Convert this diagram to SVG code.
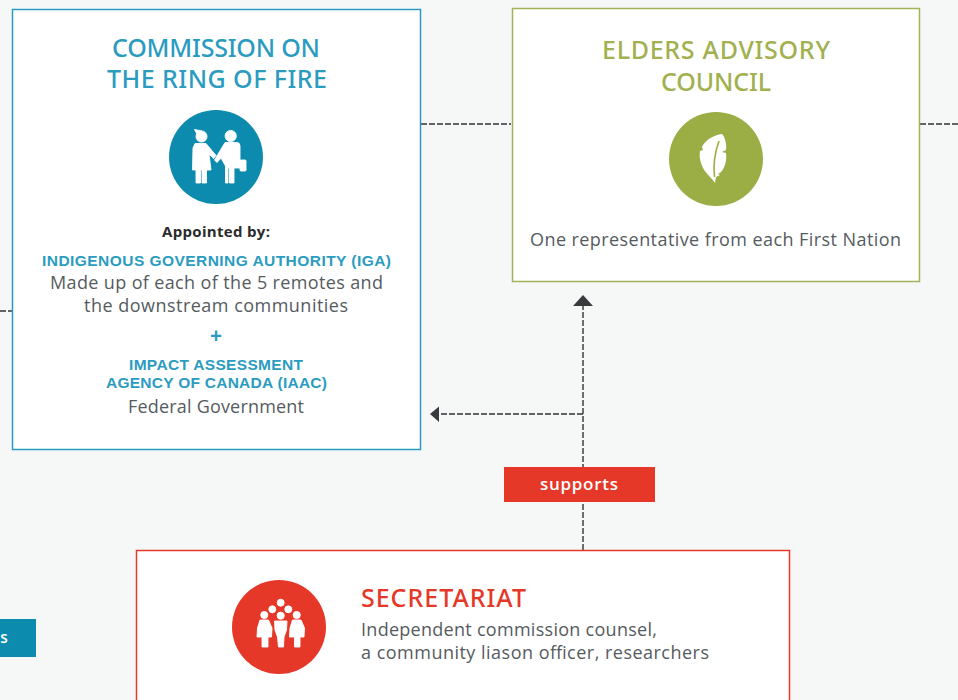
<svg xmlns="http://www.w3.org/2000/svg" width="958" height="700" viewBox="0 0 958 700">
<style>
text{font-family:"Open Sans","Noto Sans","Liberation Sans",sans-serif;text-anchor:middle}
.t{font-size:25px;font-family:"Noto Sans","Liberation Sans",sans-serif;font-weight:500}
.b{font-size:18px;fill:#555b60}
.h{font-size:15.500px;font-family:"Liberation Sans",sans-serif;font-weight:700;fill:#2b9cc0}
.c{fill:none;stroke:#333335;stroke-width:1.4;stroke-dasharray:6 2}
.w{fill:#fff}
.s{stroke:#fff;stroke-width:.9;stroke-linejoin:round}
</style>
<rect width="958" height="700" fill="#f6f8f8"/>
<g id="connectors">
<path class="c" d="M0 311H12"/>
<path class="c" d="M421 124H511"/>
<path class="c" d="M920 124H958"/>
<path class="c" d="M583 550V305"/>
<path class="c" d="M583 414H439"/>
<path d="M573 306L583 295L593 306Z" fill="#3a3a3c"/>
<path d="M430 414L439 406.500V422Z" fill="#3a3a3c"/>
</g>
<g id="commission">
<rect x="12.500" y="9.500" width="408" height="440" fill="#fff" stroke="#2a9cc0" stroke-width="1.5"/>
<text class="t" x="216" y="57" fill="#2b9cc0" textLength="208" lengthAdjust="spacing">COMMISSION ON</text>
<text class="t" x="217" y="88" fill="#2b9cc0" textLength="220" lengthAdjust="spacing">THE RING OF FIRE</text>
<circle cx="216" cy="157" r="47" fill="#0d8bae"/>
<g class="w s">
<circle cx="201.500" cy="136.500" r="5.500"/><path d="M194.500 129.500L202 131L198 136Z"/>
<circle cx="230.700" cy="136" r="5.600"/>
<path d="M195 143.500H206L216 155.500L213.500 158.500L209 154L211 170H206.500V183H202V170H200.500V183H196V170H192.500L193 148Z"/>
<path d="M225 142.500H237Q240 142.500 240 146V168H234V183H229.500V168H228V183H225.500V166L221 158L217 162.500L214.500 160Z"/>
<rect x="240" y="160" width="6" height="11" rx="1"/>
</g>
<text x="216" y="236.500" style="font-size:15px;font-weight:700" fill="#2a2a2c" textLength="108" lengthAdjust="spacing">Appointed by:</text>
<text class="h" x="216.500" y="265.500" textLength="349" lengthAdjust="spacing">INDIGENOUS GOVERNING AUTHORITY (IGA)</text>
<text class="b" x="216.500" y="289" textLength="333" lengthAdjust="spacing">Made up of each of the 5 remotes and</text>
<text class="b" x="216" y="312" textLength="264" lengthAdjust="spacing">the downstream communities</text>
<text x="216" y="343" style="font-size:21px;font-weight:700" fill="#2b9cc0">+</text>
<text class="h" x="216" y="370" textLength="174" lengthAdjust="spacing">IMPACT ASSESSMENT</text>
<text class="h" x="216.500" y="388" textLength="221" lengthAdjust="spacing">AGENCY OF CANADA (IAAC)</text>
<text class="b" x="216" y="413" textLength="176" lengthAdjust="spacing">Federal Government</text>
</g>
<g id="elders">
<rect x="512.500" y="8.500" width="407" height="273" fill="#fff" stroke="#a2b257" stroke-width="1.5"/>
<text class="t" x="716" y="59" fill="#a2b050" textLength="228" lengthAdjust="spacing">ELDERS ADVISORY</text>
<text class="t" x="716" y="91" fill="#a2b050" textLength="110" lengthAdjust="spacing">COUNCIL</text>
<circle cx="716" cy="159" r="47" fill="#9aae45"/>
<path class="w" d="M715 183C712 178 707 175 703 168C700 162 699 156 700 151L703 150L702 147C705 140 714 135 722 134C725 137 727 145 726 150L722 152L726 153C727 160 725 168 721 172L718 174L720 175L716 177Z"/>
<path d="M719 141C715 152 713 164 714.500 177" fill="none" stroke="#9aae45" stroke-width="1.600"/>
<text class="b" x="715.500" y="246" textLength="371" lengthAdjust="spacing">One representative from each First Nation</text>
</g>
<g id="supports">
<rect x="504" y="467" width="151" height="35" fill="#e63829"/>
<text x="579" y="489.500" style="font-size:17px;font-weight:600" fill="#fff" textLength="78" lengthAdjust="spacing">supports</text>
</g>
<g id="secretariat">
<rect x="136.500" y="550.500" width="653" height="160" fill="#fff" stroke="#e63829" stroke-width="1.5"/>
<circle cx="279" cy="627" r="47" fill="#e63829"/>
<g class="w s">
<circle cx="280.700" cy="602.700" r="3.500"/><circle cx="272.300" cy="609.300" r="3.500"/><circle cx="288.300" cy="609.300" r="3.500"/>
<circle cx="264.300" cy="615" r="3.600"/><circle cx="280.700" cy="615.700" r="3.600"/><circle cx="296.700" cy="615" r="3.600"/>
<path d="M260 620H268.500L272 628L271.500 637H268V647H262V637H257L257.500 628Z"/>
<path d="M274.500 621H287L286.500 630L284 637L283.500 647H278.500L277.500 637L275 630Z"/>
<path d="M292.500 620H301L304.500 628L304 637H300V647H294.500V637H289.500L290 628Z"/>
</g>
<text x="361" y="607" style="font-size:25px;font-weight:500;text-anchor:start;font-family:'Noto Sans','Liberation Sans',sans-serif" fill="#e63829" textLength="165" lengthAdjust="spacing">SECRETARIAT</text>
<text class="b" x="361" y="636" style="text-anchor:start" textLength="296" lengthAdjust="spacing">Independent commission counsel,</text>
<text class="b" x="361" y="659" style="text-anchor:start" textLength="348" lengthAdjust="spacing">a community liason officer, researchers</text>
</g>
<g id="side-tab">
<rect x="0" y="619" width="36" height="38" fill="#0d8bae"/>
<text x="4" y="643" style="font-size:15.500px;font-weight:600" fill="#fff">s</text>
</g>
</svg>
